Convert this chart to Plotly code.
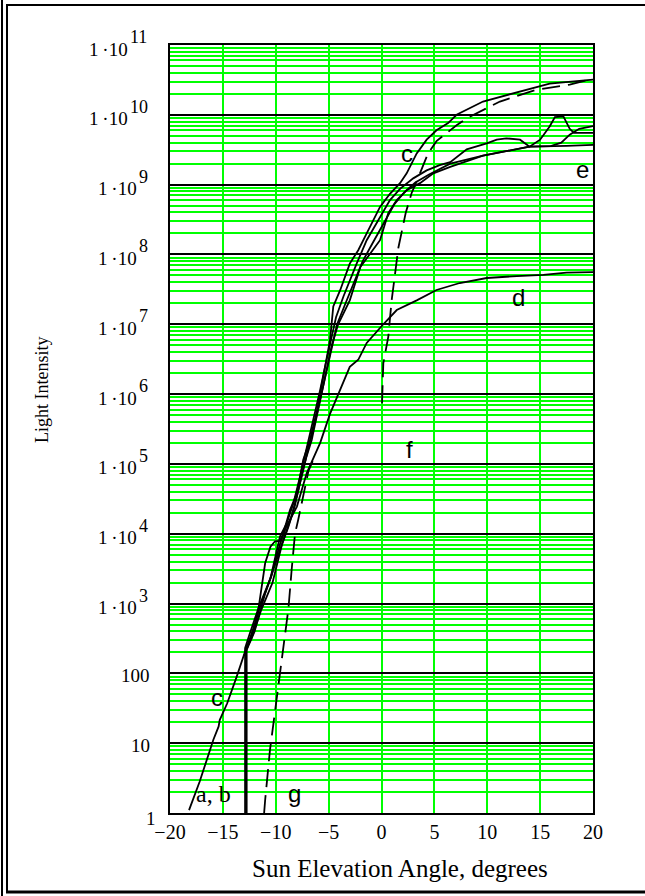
import math
import plotly.graph_objects as go

# ---------------- data ----------------
c_x = [-18.2, -17.6, -17.2, -15.9, -15.4, -15.3, -14.6, -13.7, -12.75, -11.96, -11.65, -11.0, -10.5,
       -10.07, -9.6, -9.3, -8.65, -8.0, -7.4, -6.76, -6.1, -5.5, -4.87, -4.56, -3.9, -3.0, -2.2, -1.4,
       -0.93, -0.14, 0.8, 1.75, 2.38, 3.33, 4.27, 5.2, 6.3, 7.1, 9.6, 12.8, 15.9, 20]
c_y = [1.1, 1.95, 2.8, 11.2, 17.4, 21.4, 37, 89, 240, 470, 810, 3.8e3, 6.5e3,
       7.8e3, 7.9e3, 1.0e4, 2.2e4, 3.8e4, 1.15e5, 2.2e5, 5.9e5, 1.8e6, 5.9e6, 1.8e7, 3.1e7, 7.4e7, 1.15e8, 2.0e8,
       2.75e8, 4.8e8, 7.4e8, 1.05e9, 1.45e9, 2.8e9, 4.4e9, 6.0e9, 7.6e9, 1.0e10, 1.55e10, 2.1e10, 2.8e10, 3.2e10]

a_x = [-12.9, -12.9, -12.5, -11.6, -10.5, -9.6, -8.97, -8.34, -7.7, -7.2, -6.76, -6.3, -5.8, -5.34, -4.87,
       -4.3, -3.6, -3.0, -2.35, -1.4, -0.14, 0.8, 1.75, 3.0, 4.27, 5.5, 6.5, 8.06, 9.95, 10.9, 11.8, 13.1,
       14.0, 15.0, 15.9, 16.4, 17.2, 17.8, 18.2, 20]
a_y = [1.0, 230, 355, 890, 2.3e3, 9.1e3, 1.4e4, 2.7e4, 6.6e4, 1.4e5, 2.45e5, 5.2e5, 1.15e6, 2.45e6, 5.4e6,
       1.26e7, 2.5e7, 4.3e7, 7.4e7, 1.6e8, 3.5e8, 6.0e8, 8.7e8, 1.23e9, 1.6e9, 1.9e9, 2.1e9, 3.2e9, 3.9e9, 4.4e9, 4.6e9, 4.4e9,
       3.5e9, 4.4e9, 6.8e9, 9.3e9, 9.5e9, 6.3e9, 5.5e9, 5.5e9]

b_x = [-12.75, -12.75, -12.3, -11.4, -10.3, -9.4, -8.8, -8.2, -7.6, -7.1, -6.6, -6.1, -5.6, -5.2, -4.7,
       -4.1, -3.0, -2.0, -1.1, -0.14, 0.64, 1.44, 2.38, 3.64, 4.9, 6.5, 9.6, 14.0, 16.0, 17.0, 17.8, 18.7, 20]
b_y = [1.0, 230, 316, 790, 2.0e3, 7.1e3, 1.26e4, 2.5e4, 6.3e4, 1.26e5, 2.2e5, 5.0e5, 1.1e6, 2.2e6, 5.0e6,
       1.0e7, 2.2e7, 6.6e7, 1.0e8, 1.6e8, 3.9e8, 6.0e8, 8.3e8, 1.05e9, 1.45e9, 1.8e9, 2.6e9, 3.5e9, 3.55e9, 4.0e9, 5.2e9, 6.3e9, 6.9e9]

d_x = [-12.7, -11.5, -10.4, -9.6, -9.0, -8.0, -7.07, -5.8, -4.87, -3.9, -3.0, -2.2, -1.4, 0.17, 1.44,
       3.33, 5.2, 7.4, 9.95, 12.8, 15.3, 17.5, 20]
d_y = [230, 890, 2.5e3, 7.1e3, 1.26e4, 2.45e4, 7.4e4, 2.0e5, 5.2e5, 1.15e6, 2.45e6, 3.1e6, 5.4e6, 1.0e7, 1.6e7,
       2.2e7, 3.1e7, 3.9e7, 4.6e7, 4.9e7, 5.1e7, 5.5e7, 5.6e7]

e_x = [-13.0, -12.0, -11.0, -10.0, -9.2, -8.5, -7.9, -7.3, -6.8, -6.2, -5.7, -5.2, -4.7, -4.2, -3.4, -2.6,
       -1.8, -0.9, 0.2, 1.2, 2.2, 3.2, 4.5, 6.5, 9.6, 14.0, 17.5, 20]
e_y = [178, 400, 1.4e3, 4.0e3, 8.9e3, 1.8e4, 4.0e4, 1.0e5, 2.0e5, 4.5e5, 1.0e6, 2.0e6, 4.5e6, 1.0e7, 2.0e7, 4.0e7,
       7.9e7, 1.4e8, 2.8e8, 5.2e8, 7.9e8, 1.07e9, 1.4e9, 2.0e9, 2.6e9, 3.5e9, 3.6e9, 3.7e9]

f_x = [0.05, 0.17, 0.64, 0.96, 1.6, 2.3, 2.85, 3.2, 4.4, 5.2, 7.1, 8.06, 11.2, 14.7, 17.8, 20]
f_y = [7.4e5, 2.75e6, 6.6e6, 2.2e7, 1.26e8, 4.0e8, 7.6e8, 1.0e9, 2.8e9, 4.2e9, 7.1e9, 8.9e9, 1.55e10, 2.3e10,
       2.7e10, 3.3e10]

g_x = [-11.1, -11.0, -10.55, -10.07, -9.6, -9.1, -8.8, -8.5, -8.18, -7.87, -7.4, -6.9, -6.3]
g_y = [1.0, 1.55, 7.9, 30, 112, 420, 850, 3.0e3, 1.0e4, 1.6e4, 3.5e4, 8.0e4, 1.3e5]

series = [("a", a_x, a_y, "solid"), ("b", b_x, b_y, "solid"), ("c", c_x, c_y, "solid"),
          ("d", d_x, d_y, "solid"), ("e", e_x, e_y, "solid"), ("f", f_x, f_y, "18px,8px"),
          ("g", g_x, g_y, "18px,8px")]

x_ticks = [-20, -15, -10, -5, 0, 5, 10, 15, 20]
y_plain_ticks = ["10", "100"]          # labels for 10^1, 10^2
y_exponents = list(range(3, 12))       # labels "1·10^k" for k = 3..11

# curve labels: (text, x, y, font)
labels = [("c", -15.6, 45, "sans"), ("a, b", -15.85, 1.9, "serif"), ("g", -8.2, 1.9, "sans"),
          ("c", 2.4, 2.8e9, "sans"), ("e", 19.0, 1.65e9, "sans"), ("d", 13.0, 2.45e7, "sans"),
          ("f", 2.6, 1.6e5, "sans")]

SERIF = "Liberation Serif"
SANS = "Liberation Sans"
TICK_SIZE = 20
YBASE_SIZE = 19
YEXP_SIZE = 18

# ---------------- figure ----------------
fig = go.Figure()
for name, xs, ys, dash in series:
    fig.add_trace(go.Scatter(x=xs, y=ys, mode="lines", name=name,
                             line=dict(color="black", width=1.8, dash=dash),
                             hoverinfo="skip", showlegend=False))

W, H = 645, 896
L_, R_, T_, B_ = 170, 52, 45, 83
pw, ph = W - L_ - R_, H - T_ - B_


def px(xp):
    return (xp - L_) / pw


def py(yp):
    return (H - B_ - yp) / ph


def ann(text, x, y, size, family=SERIF, xanchor="center", yanchor="middle", xref="paper", yref="paper",
        angle=0):
    fig.add_annotation(x=x, y=y, xref=xref, yref=yref, text=text, showarrow=False, textangle=angle,
                       xanchor=xanchor, yanchor=yanchor, borderpad=0,
                       font=dict(family=family, size=size, color="black"))


# curve labels
for text, x, y, fnt in labels:
    ann(text, x, math.log10(y), 24, family=SERIF if fnt == "serif" else SANS, xref="x", yref="y")

# y tick labels (base + raised exponent, as in the original)
LABEL_RIGHT = 147
for k in y_exponents:
    ty = H - B_ - ph * k / 11.0
    exp_txt = str(k)
    w_exp = 0.5 * YEXP_SIZE * len(exp_txt)
    xb = LABEL_RIGHT - w_exp
    ann("1\u2009\u00b710", px(xb), py(ty + 4), YBASE_SIZE, xanchor="right")
    ann(exp_txt, px(xb), py(ty - 8), YEXP_SIZE, xanchor="left")
for k, txt in enumerate(y_plain_ticks, start=1):
    ty = H - B_ - ph * k / 11.0
    ann(txt, px(151), py(ty + 2), YBASE_SIZE, xanchor="right")
# the "1" tick label sits lower-left in the original
ann("1", px(151), py(818), YBASE_SIZE)

# axis titles
ann("Sun Elevation Angle, degrees", px(400), py(868), 25)
ann("Light Intensity", px(42), py(390), 18, angle=-90)

# frame borders around the figure
shapes = [
    dict(type="line", xref="paper", yref="paper", x0=px(2), x1=px(2), y0=py(0), y1=py(896),
         line=dict(color="black", width=2)),
    dict(type="line", xref="paper", yref="paper", x0=px(7), x1=px(7), y0=py(5), y1=py(893),
         line=dict(color="black", width=2)),
    dict(type="line", xref="paper", yref="paper", x0=px(6), x1=px(645), y0=py(5), y1=py(5),
         line=dict(color="black", width=2)),
    dict(type="line", xref="paper", yref="paper", x0=px(6), x1=px(645), y0=py(892), y1=py(892),
         line=dict(color="black", width=3)),
]

fig.update_layout(
    width=W, height=H, margin=dict(l=L_, r=R_, t=T_, b=B_, autoexpand=False),
    paper_bgcolor="white", plot_bgcolor="white", showlegend=False, shapes=shapes,
    xaxis=dict(range=[-20, 20], tickvals=x_ticks, showgrid=True, gridcolor="#00ff00", gridwidth=2,
               zeroline=False, showline=True, mirror=True, linecolor="black", linewidth=2,
               ticks="", tickfont=dict(family=SERIF, size=TICK_SIZE, color="black"), automargin=False),
    yaxis=dict(type="log", range=[0, 11], dtick=1, showticklabels=False,
               showgrid=True, gridcolor="black", gridwidth=2, zeroline=False,
               showline=True, mirror=True, linecolor="black", linewidth=2, ticks="",
               minor=dict(dtick="D1", showgrid=True, gridcolor="#00ff00", gridwidth=2, ticks=""),
               automargin=False),
)

fig.write_html("out.html")
